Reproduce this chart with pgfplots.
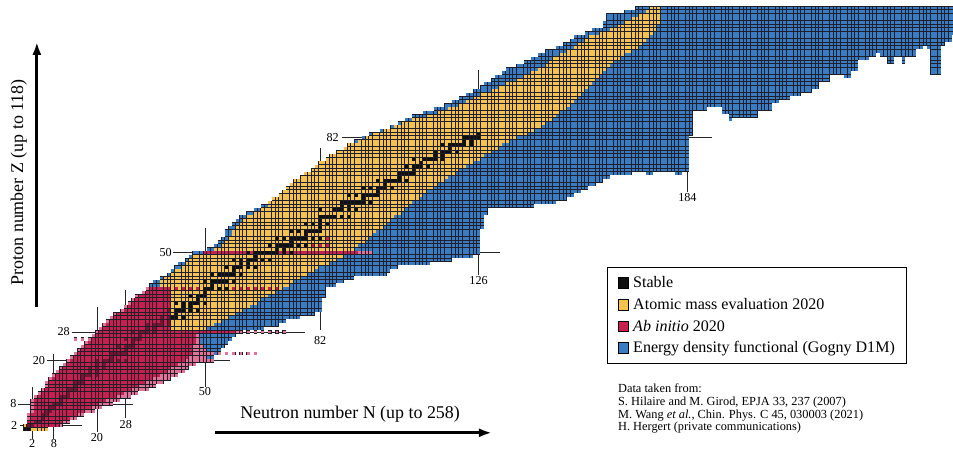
\documentclass[border=0pt]{standalone}
\usepackage{pgfplots}
\pgfplotsset{compat=1.18}
\usepackage{pgfplotstable}
\usepackage{fontspec}
\setmainfont{Liberation Serif}
\usetikzlibrary{arrows.meta}
\definecolor{cb}{HTML}{1E1E28}
\definecolor{cblue}{HTML}{387CC4}
\definecolor{cyell}{HTML}{F5C34B}
\definecolor{cred}{HTML}{C81E50}
\definecolor{cpink}{HTML}{E17396}
\definecolor{cdred}{HTML}{781432}
\definecolor{cstab}{HTML}{0F0F0F}
\pgfplotsset{
  rowunder/.style={forget plot, no markers, draw=cb, line width=3.6bp,
     quiver={u=\thisrow{hi}-\thisrow{lo}+1, v=0}},
  rowcell/.style={forget plot, no markers, draw=#1, line width=2.9bp,
     dash pattern=on 2.9bp off 0.7bp, dash phase=3.25bp,
     quiver={u=\thisrow{hi}-\thisrow{lo}+1, v=0}},
  colunder/.style={forget plot, no markers, draw=cb, line width=3.6bp,
     quiver={u=0, v=119-\thisrow{zmin}}},
  colcell/.style={forget plot, no markers, draw=#1, line width=2.9bp,
     dash pattern=on 2.9bp off 0.7bp, dash phase=3.25bp,
     quiver={u=0, v=119-\thisrow{zmin}}},
  mline/.style={forget plot, no markers, draw=black!85, line width=0.9bp},
}
\newcommand{\rows}[2]{%
  \addplot[rowunder] table[x expr=\thisrow{lo}-0.5, y=Z] {#1};
  \addplot[rowcell=#2] table[x expr=\thisrow{lo}-0.5, y=Z] {#1};}
\newcommand{\magicfont}{\fontsize{12.2}{14}\selectfont}
\begin{document}
% ---------------- Energy density functional (rows: Z, first N, last N)
\pgfplotstableread{
Z lo hi
20 40 50
21 40 52
22 40 53
23 40 54
24 40 55
25 40 56
26 40 57
27 40 58
28 40 59
29 41 66
30 41 70
31 41 72
32 41 76
33 41 80
34 41 82
35 41 82
36 41 82
37 41 82
38 41 83
39 41 83
40 41 83
41 35 86
42 36 88
43 38 91
44 40 100
45 41 101
46 42 103
47 43 112
48 45 118
49 46 124
50 47 126
51 51 126
52 53 126
53 54 126
54 55 126
55 56 126
56 56 126
57 57 127
58 58 127
59 59 127
60 60 127
61 62 128
62 64 128
63 66 141
64 68 147
65 69 150
66 71 152
67 72 154
68 73 156
69 74 158
70 75 160
71 77 162
72 78 168
72 173 174
72 181 182
73 80 184
74 81 184
75 82 184
76 84 184
77 85 184
78 87 184
79 89 184
80 90 184
81 92 184
82 94 184
83 96 185
84 99 185
85 102 185
86 104 185
87 106 185
88 108 185
89 111 185
90 114 185
91 117 185
92 119 185
93 121 185
94 123 185
95 125 185
96 127 185
97 128 185
98 130 185
99 131 185
100 133 185
101 134 185
102 137 185
103 139 185
104 141 185
105 143 185
106 145 185
107 148 185
108 150 185
109 152 185
110 153 185
111 156 185
112 158 185
113 161 185
114 161 185
115 162 185
116 162 185
117 167 185
118 170 185
}\edfRows
% EDF, heavy neutron-rich part (columns: N, lowest Z, up to Z=118)
\pgfplotstableread{
N zmin
186 90
187 90
188 90
189 90
190 91
191 91
192 91
193 91
194 89
195 89
196 87
197 88
198 88
199 88
200 88
201 88
202 88
203 88
204 90
205 90
206 90
207 90
208 92
209 92
210 93
211 93
212 93
213 94
214 94
215 94
216 95
217 95
218 95
219 96
220 96
221 98
222 98
223 98
224 100
225 100
226 100
227 100
228 99
229 99
230 101
231 101
232 104
233 104
234 104
235 105
236 105
237 106
238 105
239 105
240 103
241 103
242 105
243 105
244 103
245 105
246 105
247 105
248 107
249 107
250 108
251 107
252 100
253 100
254 100
255 108
256 109
257 109
258 111
}\edfCols
% ---------------- Atomic mass evaluation 2020
\pgfplotstableread{
Z lo hi
1 0 6
2 0 0
29 41 50
30 41 52
31 41 54
32 41 56
33 41 58
34 41 60
35 41 62
36 41 64
37 41 65
38 41 67
39 41 69
40 41 71
41 38 73
42 38 74
43 39 76
44 41 78
45 42 80
46 44 81
47 45 84
48 46 86
49 47 88
50 50 91
51 53 91
52 55 92
53 56 94
54 57 95
55 58 96
56 58 97
57 59 99
58 60 100
59 61 101
60 62 102
61 64 104
62 66 105
63 68 106
64 68 107
65 69 109
66 71 110
67 72 111
68 73 113
69 74 114
70 75 116
71 77 117
72 78 119
73 80 120
74 81 122
75 82 124
76 84 126
77 85 127
78 87 129
79 89 131
80 90 132
81 93 134
82 95 136
83 97 139
84 100 141
85 103 143
86 105 144
87 108 146
88 112 147
89 115 148
90 118 150
91 121 151
92 123 152
93 125 153
94 127 154
95 130 155
96 132 156
97 134 157
98 137 158
99 139 159
100 141 160
101 143 161
102 145 162
103 146 163
104 147 165
105 149 166
106 151 168
107 153 170
108 154 171
109 156 172
110 157 173
111 160 174
112 163 175
113 165 175
114 167 176
115 169 176
116 171 176
117 173 176
118 174 176
}\ameRows
% ---------------- Ab initio 2020 (outer, light shade)
\pgfplotstableread{
Z lo hi
2 1 10
3 1 12
4 1 14
5 1 16
6 2 19
7 2 21
8 2 24
9 2 26
10 3 29
11 4 31
12 5 34
13 6 36
14 6 38
15 7 40
16 8 42
17 9 44
18 10 45
19 11 47
20 12 52
21 13 50
22 14 51
23 15 50
24 16 49
25 17 48
26 18 48
27 19 48
28 20 60
29 21 40
30 22 40
31 23 40
32 24 40
33 25 40
34 27 40
35 28 40
36 29 40
37 30 40
38 31 40
39 33 40
40 34 40
26 14 14
26 16 16
22 52 52
22 54 54
22 56 56
22 58 58
22 60 60
22 62 62
22 64 64
28 62 62
28 64 64
28 66 66
28 68 68
28 70 70
28 72 72
50 93 96
}\pinkRows
% ---------------- Ab initio 2020 (inner)
\pgfplotstableread{
Z lo hi
2 1 9
3 1 10
4 2 12
5 2 14
6 3 16
7 3 18
8 3 20
9 3 22
10 4 25
11 5 27
12 6 29
13 7 31
14 7 33
15 8 35
16 9 37
17 10 39
18 11 40
19 12 42
20 13 44
21 14 45
22 15 46
23 16 46
24 17 46
25 18 47
26 19 47
27 20 47
28 21 58
29 22 40
30 23 40
31 24 40
32 25 40
33 26 40
34 28 40
35 29 40
36 30 40
37 31 40
38 32 40
39 34 40
40 35 40
40 42 42
40 44 44
40 46 46
40 48 48
40 50 50
40 52 52
40 54 54
40 56 56
40 58 58
40 60 60
40 62 62
40 64 64
40 66 66
40 68 68
40 70 70
50 50 92
52 80 80
52 82 82
52 84 84
54 82 82
54 84 84
}\redRows
% ---------------- Stable nuclei inside the ab initio region
\pgfplotstableread{
Z lo hi
2 1 2
3 3 4
4 5 5
5 5 6
6 6 7
7 7 8
8 8 10
9 10 10
10 10 12
11 12 12
12 12 14
13 14 14
14 14 16
15 16 16
16 16 18
16 20 20
17 18 18
17 20 20
18 18 18
18 20 20
18 22 22
19 20 20
19 22 22
20 20 20
20 22 24
20 26 26
20 28 28
21 24 24
22 24 28
23 28 28
24 26 26
24 28 30
25 30 30
26 28 28
26 30 32
27 32 32
28 30 30
28 32 34
28 36 36
29 34 34
29 36 36
30 34 34
30 36 38
30 40 40
31 38 38
31 40 40
32 38 38
32 40 40
34 40 40
}\stabRed
% ---------------- Stable nuclei
\pgfplotstableread{
Z lo hi
1 0 1
32 41 42
32 44 44
33 42 42
34 42 44
34 46 46
34 48 48
35 44 44
35 46 46
36 42 42
36 44 44
36 46 48
36 50 50
37 48 48
38 46 46
38 48 50
39 50 50
40 50 52
40 54 54
40 56 56
41 52 52
42 50 50
42 52 56
42 58 58
44 52 52
44 54 58
44 60 60
45 58 58
46 56 56
46 58 60
46 62 62
46 64 64
47 60 60
47 62 62
48 58 58
48 60 60
48 62 64
48 66 66
48 68 68
49 64 64
50 62 62
50 64 70
50 72 72
50 74 74
51 70 70
51 72 72
52 68 68
52 70 74
52 76 76
52 78 78
53 74 74
54 70 70
54 72 72
54 74 78
54 80 80
54 82 82
55 78 78
56 74 74
56 76 76
56 78 82
57 82 82
58 78 78
58 80 80
58 82 82
58 84 84
59 82 82
60 82 86
60 88 88
60 90 90
62 82 82
62 86 88
62 90 90
62 92 92
63 88 88
63 90 90
64 88 94
64 96 96
65 94 94
66 90 90
66 92 92
66 94 98
67 98 98
68 94 94
68 96 96
68 98 100
68 102 102
69 100 100
70 98 98
70 100 104
70 106 106
71 104 104
72 104 108
73 108 108
74 106 106
74 108 110
74 112 112
75 110 110
76 108 108
76 111 114
76 116 116
77 114 114
77 116 116
78 114 114
78 116 118
78 120 120
79 118 118
80 116 116
80 118 122
80 124 124
81 122 122
81 124 124
82 122 126
83 126 126
}\stabRows
\begin{tikzpicture}
\begin{axis}[
  x=3.6bp, y=3.6bp,
  xmin=-6.944, xmax=257.78, ymin=-4.5, ymax=120.22,
  hide axis,
  legend cell align=left,
  legend image code/.code={\draw[#1,draw=black,line width=0.6bp] (0bp,-5.3bp) rectangle (10.6bp,5.3bp);},
  legend style={at={(axis cs:161.7,46.1)}, anchor=north west, draw=black,
    line width=0.8bp, font=\fontsize{16.1}{19}\selectfont,
    nodes={inner sep=1.5bp}, inner xsep=10bp, inner ysep=8bp,
    row sep=6bp, column sep=3bp},
]
% magic-number lines
\addplot[mline] coordinates {(-1.4,2) (15.7,2)};
\addplot[mline] coordinates {(-1.9,8) (30,8)};
\addplot[mline] coordinates {(6.1,20) (57,20)};
\addplot[mline] coordinates {(13,28) (77.8,28)};
\addplot[mline] coordinates {(41.1,50) (132,50)};
\addplot[mline] coordinates {(88,82) (190.8,82)};
\addplot[mline] coordinates {(2,-1.6) (2,12.8)};
\addplot[mline] coordinates {(8,-1.6) (8,22)};
\addplot[mline] coordinates {(20,0.3) (20,35)};
\addplot[mline] coordinates {(28,4) (28,39.7)};
\addplot[mline] coordinates {(50,12.8) (50,57)};
\addplot[mline] coordinates {(82,28.6) (82,79)};
\addplot[mline] coordinates {(126,43.8) (126,100.8)};
\addplot[mline] coordinates {(184,67) (184,118)};
% regions
\rows{\edfRows}{cblue}
\addplot[colunder] table[x=N, y expr=\thisrow{zmin}-0.5] {\edfCols};
\addplot[colcell=cblue] table[x=N, y expr=\thisrow{zmin}-0.5] {\edfCols};
\rows{\ameRows}{cyell}
\rows{\pinkRows}{cpink}
\rows{\redRows}{cred}
\rows{\stabRed}{cdred}
\rows{\stabRows}{cstab}
% arrows
\addplot[forget plot, no markers, black, line width=2.8bp, -{Latex[length=13bp,width=9bp]}] coordinates {(3.3,34.9) (3.3,108.6)};
\addplot[forget plot, no markers, black, line width=2.8bp, -{Latex[length=13bp,width=9bp]}] coordinates {(52.8,0) (129.7,0)};
% labels
\node[anchor=east, inner sep=0, font=\magicfont] at (axis cs:-2.1,2) {2};
\node[anchor=east, inner sep=0, font=\magicfont] at (axis cs:-2.3,8) {8};
\node[anchor=east, inner sep=0, font=\magicfont] at (axis cs:5.6,20) {20};
\node[anchor=east, inner sep=0, font=\magicfont] at (axis cs:12.5,28) {28};
\node[anchor=east, inner sep=0, font=\magicfont] at (axis cs:40.8,50) {50};
\node[anchor=east, inner sep=0, font=\magicfont] at (axis cs:87.2,82) {82};
\node[anchor=north, inner sep=0, font=\magicfont] at (axis cs:2,-1.9) {2};
\node[anchor=north, inner sep=0, font=\magicfont] at (axis cs:8,-1.9) {8};
\node[anchor=north, inner sep=0, font=\magicfont] at (axis cs:20,-0.2) {20};
\node[anchor=north, inner sep=0, font=\magicfont] at (axis cs:28,3.5) {28};
\node[anchor=north, inner sep=0, font=\magicfont] at (axis cs:50,12.6) {50};
\node[anchor=north, inner sep=0, font=\magicfont] at (axis cs:82,26.7) {82};
\node[anchor=north, inner sep=0, font=\magicfont] at (axis cs:126,43.6) {126};
\node[anchor=north, inner sep=0, font=\magicfont] at (axis cs:184,66.6) {184};
\node[font=\fontsize{18}{21}\selectfont] at (axis cs:90.3,5.2) {Neutron number N (up to 258)};
\node[font=\fontsize{18}{21}\selectfont, rotate=90] at (axis cs:-1.7,69.6) {Proton number Z (up to 118)};
\node[anchor=north west, inner sep=0, align=left, font=\fontsize{12.4}{12.8}\selectfont] at (axis cs:164.7,13.6)
  {Data taken from:\\S. Hilaire and M. Girod, EPJA 33, 237 (2007)\\M. Wang \textit{et al.}, Chin. Phys. C 45, 030003 (2021)\\H. Hergert (private communications)};
% legend
\addlegendimage{fill=cstab}
\addlegendentry{Stable}
\addlegendimage{fill=cyell}
\addlegendentry{Atomic mass evaluation 2020}
\addlegendimage{fill=cred}
\addlegendentry{\textit{Ab initio} 2020}
\addlegendimage{fill=cblue}
\addlegendentry{Energy density functional (Gogny D1M)}
\end{axis}
\pgfresetboundingbox
\path[use as bounding box] (current axis.south west) rectangle (current axis.north east);
\end{tikzpicture}
\end{document}
